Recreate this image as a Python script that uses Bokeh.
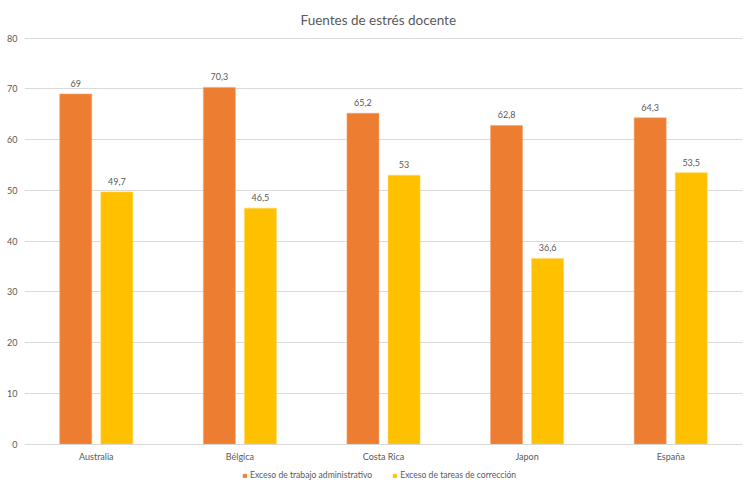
from bokeh.plotting import figure
from bokeh.models import FactorRange, Range1d, ColumnDataSource, Legend, LegendItem, FixedTicker
from bokeh.transform import dodge
from bokeh.core.properties import value
from bokeh.embed import file_html
from bokeh.resources import INLINE

categories = ["Australia", "Bélgica", "Costa Rica", "Japon", "España"]
admin = [69, 70.3, 65.2, 62.8, 64.3]
correccion = [49.7, 46.5, 53, 36.6, 53.5]
series_names = ["Exceso de trabajo administrativo", "Exceso de tareas de corrección"]
y_ticks = [0, 10, 20, 30, 40, 50, 60, 70, 80]

def fmt(v):
    return f"{v:g}".replace(".", ",")

src = ColumnDataSource(dict(
    cat=categories,
    admin=admin,
    corr=correccion,
    admin_lbl=[fmt(v) for v in admin],
    corr_lbl=[fmt(v) for v in correccion],
))

FONT = "Lato"
GRAY = "#595959"

p = figure(x_range=FactorRange(*categories), y_range=Range1d(-7.95, 80.13),
           width=746, height=484, output_backend="svg", toolbar_location=None,
           min_border_left=24, min_border_right=4, min_border_top=37, min_border_bottom=0)

p.title.text = "Fuentes de estrés docente"
p.title.align = "left"
p.title.offset = 276
p.title.text_font = FONT
p.title.text_font_size = "13.5px"
p.title.text_font_style = "normal"
p.title.text_color = GRAY
p.title.standoff = 19

off = 0.143
w = 0.223
r1 = p.vbar(x=dodge("cat", -off, range=p.x_range), top="admin", width=w, source=src,
            fill_color="#ED7D31", line_color="#F4A46E", line_width=0.6)
r2 = p.vbar(x=dodge("cat", off, range=p.x_range), top="corr", width=w, source=src,
            fill_color="#FFC000", line_color="#FFD65C", line_width=0.6)

p.text(x=dodge("cat", -off, range=p.x_range), y="admin", text="admin_lbl", source=src,
       text_align="center", text_baseline="middle", y_offset=-10.5,
       text_font=value(FONT), text_font_size="9px", text_color=GRAY)
p.text(x=dodge("cat", off, range=p.x_range), y="corr", text="corr_lbl", source=src,
       text_align="center", text_baseline="middle", y_offset=-10.5,
       text_font=value(FONT), text_font_size="9px", text_color=GRAY)

p.xgrid.grid_line_color = None
p.ygrid.grid_line_color = "#D9D9D9"
p.ygrid.grid_line_width = 1
p.outline_line_color = None

p.yaxis.ticker = FixedTicker(ticks=y_ticks)
p.yaxis.axis_line_color = None
p.yaxis.major_tick_line_color = None
p.yaxis.major_tick_out = 0
p.yaxis.major_tick_in = 0
p.yaxis.minor_tick_line_color = None
p.yaxis.major_label_standoff = 7
p.yaxis.major_label_text_font = FONT
p.yaxis.major_label_text_font_size = "9px"
p.yaxis.major_label_text_color = GRAY

p.xaxis.fixed_location = 0
p.xaxis.axis_line_color = "#D9D9D9"
p.xaxis.major_tick_line_color = None
p.xaxis.major_tick_out = 0
p.xaxis.major_tick_in = 0
p.xaxis.minor_tick_line_color = None
p.xaxis.major_label_standoff = 7
p.xaxis.major_label_text_font = FONT
p.xaxis.major_label_text_font_size = "9px"
p.xaxis.major_label_text_color = GRAY

legend = Legend(items=[LegendItem(label=series_names[0], renderers=[r1]),
                       LegendItem(label=series_names[1], renderers=[r2])],
                orientation="horizontal", location=(218, 4))
legend.border_line_color = None
legend.background_fill_alpha = 0
legend.margin = 0
legend.padding = 0
legend.spacing = 20
legend.glyph_width = 5
legend.glyph_height = 5
legend.label_standoff = 3
legend.label_height = 9
legend.label_text_font = FONT
legend.label_text_font_size = "8.6px"
legend.label_text_color = GRAY
p.add_layout(legend, "center")

open("out.html", "w").write(file_html(p, INLINE))
